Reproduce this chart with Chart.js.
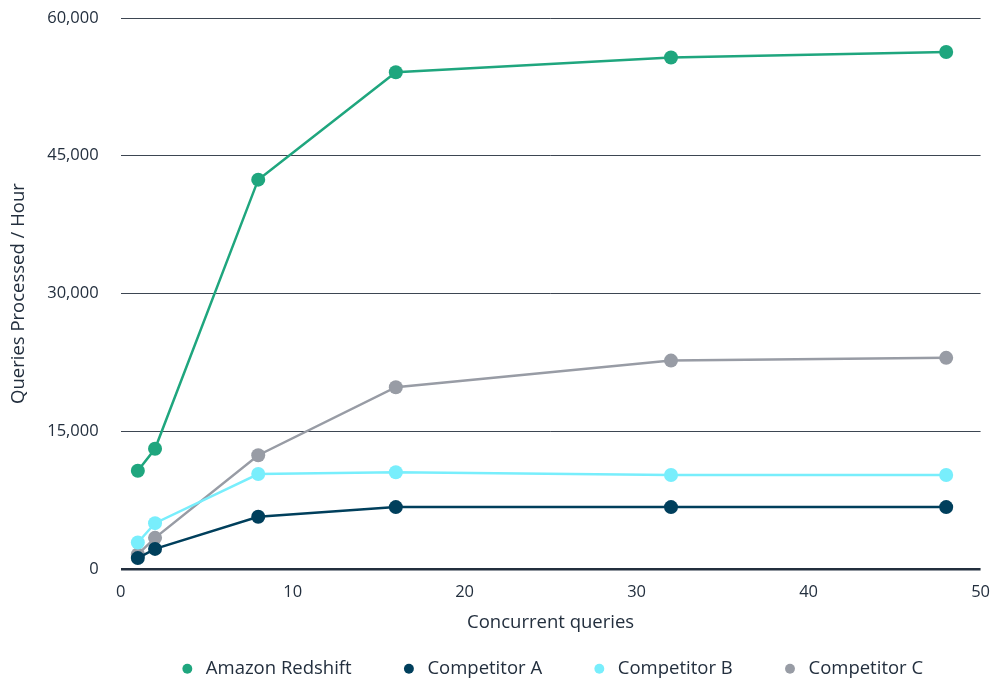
<!DOCTYPE html>
<html>
<head>
<meta charset="utf-8">
<script src="https://cdn.jsdelivr.net/npm/chart.js@4.4.1/dist/chart.umd.min.js"></script>
<style>
  html, body { margin: 0; padding: 0; background: #fff; }
  #wrap { width: 992px; height: 679px; }
</style>
</head>
<body>
<div id="wrap"><canvas id="chart"></canvas></div>
<script>
const concurrency = [1, 2, 8, 16, 32, 48];

const redshift    = [10700, 13100, 42400, 54100, 55700, 56300];
const competitorA = [1200, 2200, 5700, 6750, 6750, 6750];
const competitorB = [2900, 5000, 10350, 10550, 10250, 10250];
const competitorC = [1600, 3400, 12400, 19800, 22700, 23000];

const seriesNames = ['Amazon Redshift', 'Competitor A', 'Competitor B', 'Competitor C'];
const seriesColors = ['#1fa67e', '#003f5c', '#78eefc', '#989ca5'];

function toPoints(vals) {
  return vals.map((v, i) => ({ x: concurrency[i], y: v }));
}

const allSeries = [redshift, competitorA, competitorB, competitorC];

const textColor = '#232f3e';
const fontFamily = '"Open Sans", "Noto Sans", sans-serif';
const clear = 'rgba(0,0,0,0)';

new Chart(document.getElementById('chart'), {
  type: 'line',
  data: {
    datasets: allSeries.map((vals, i) => ({
      label: seriesNames[i],
      data: toPoints(vals),
      borderColor: seriesColors[i],
      backgroundColor: seriesColors[i],
      borderWidth: 2.5,
      pointRadius: 7,
      pointHoverRadius: 7,
      pointBorderWidth: 0,
      tension: 0
    }))
  },
  options: {
    responsive: true,
    maintainAspectRatio: false,
    animation: false,
    layout: { padding: { top: 18, right: 0, left: 0, bottom: -9 } },
    scales: {
      x: {
        type: 'linear',
        min: 0,
        max: 50,
        ticks: { stepSize: 10, color: textColor, font: { family: fontFamily, size: 16.5 }, padding: 2 },
        grid: { color: clear, tickColor: clear, drawTicks: true, tickLength: 11 },
        border: { display: false },
        title: {
          display: true,
          text: 'Concurrent queries',
          color: textColor,
          font: { family: fontFamily, size: 18.5 },
          padding: { top: 8, bottom: -22.6 }
        }
      },
      y: {
        min: 0,
        max: 60000,
        ticks: {
          stepSize: 15000,
          color: textColor,
          font: { family: fontFamily, size: 16.5 },
          padding: 2,
          callback: v => v.toLocaleString('en-US')
        },
        grid: {
          drawTicks: true,
          tickLength: 20,
          tickColor: clear,
          color: ctx => ctx.tick && ctx.tick.value === 0 ? '#232f3e' : '#3d4652',
          lineWidth: ctx => ctx.tick && ctx.tick.value === 0 ? 2.5 : 1
        },
        border: { display: false },
        title: {
          display: true,
          text: 'Queries Processed / Hour',
          color: textColor,
          font: { family: fontFamily, size: 18.5 },
          padding: { top: 8, bottom: 15 }
        }
      }
    },
    plugins: {
      legend: {
        position: 'bottom',
        fullSize: false,
        labels: {
          usePointStyle: true,
          pointStyle: 'circle',
          boxWidth: 18.5,
          boxHeight: 7,
          padding: 48,
          color: textColor,
          font: { family: fontFamily, size: 18.5 }
        }
      },
      tooltip: { enabled: false }
    }
  }
});
</script>
</body>
</html>
